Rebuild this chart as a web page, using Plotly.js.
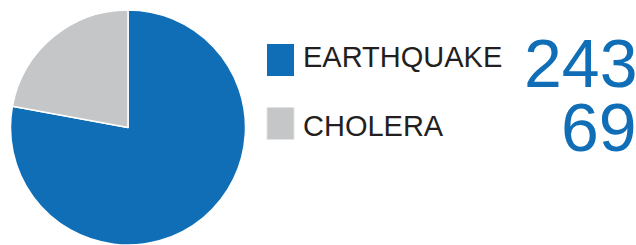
<!DOCTYPE html>
<html><head><meta charset="utf-8">
<script src="https://cdn.plot.ly/plotly-3.0.1.min.js"></script>
<style>html,body{margin:0;padding:0;overflow:hidden;background:#fff}</style>
</head><body><div id="chart" style="width:636px;height:245px"></div>
<script>
const categories = ["EARTHQUAKE", "CHOLERA"];
const values = [243, 69];
const colors = ["#0F6EB6", "#C5C6C8"];

const W = 636, H = 245;
const px = x => x / W;
const py = y => 1 - y / H;

// legend layout (pixel positions)
const squareMid = [60, 123.5];
const labelMid = [57, 126];
const numberMid = [63, 127];
const squareX = [267, 294];
const squareH = 32;
const labelX = 302;
const numberRight = 638;

const shapes = categories.map((c, i) => ({
  type: "rect", xref: "paper", yref: "paper",
  x0: px(squareX[0]), x1: px(squareX[1]),
  y0: py(squareMid[i] + squareH / 2), y1: py(squareMid[i] - squareH / 2),
  fillcolor: colors[i], line: {width: i === 1 ? 1 : 0, color: "#E2E3E4"}
}));

const annotations = [];
categories.forEach((c, i) => {
  annotations.push({
    xref: "paper", yref: "paper", x: px(labelX), y: py(labelMid[i]),
    xanchor: "left", yanchor: "middle", showarrow: false, borderpad: 0,
    text: c, font: {family: "Liberation Sans, Arial, sans-serif", size: 29, color: "#231F20"}
  });
  annotations.push({
    xref: "paper", yref: "paper", x: px(numberRight), y: py(numberMid[i]),
    xanchor: "right", yanchor: "middle", showarrow: false, borderpad: 0,
    text: String(values[i]), font: {family: "Liberation Sans, Arial, sans-serif", size: 68, color: colors[0]}
  });
});

const trace = {
  type: "pie", labels: categories, values: values, sort: false,
  direction: "clockwise", rotation: 0,
  marker: {colors: colors, line: {color: "#FFFFFF", width: 1.5}},
  textinfo: "none", hoverinfo: "none", showlegend: false,
  domain: {x: [px(10.5), px(245.5)], y: [0, 235 / 245]}
};

Plotly.newPlot("chart", [trace], {
  width: W, height: H, margin: {l: 0, r: 0, t: 0, b: 0},
  paper_bgcolor: "#FFFFFF", plot_bgcolor: "#FFFFFF",
  showlegend: false, shapes: shapes, annotations: annotations
}, {displayModeBar: false, staticPlot: true});
</script></body></html>
